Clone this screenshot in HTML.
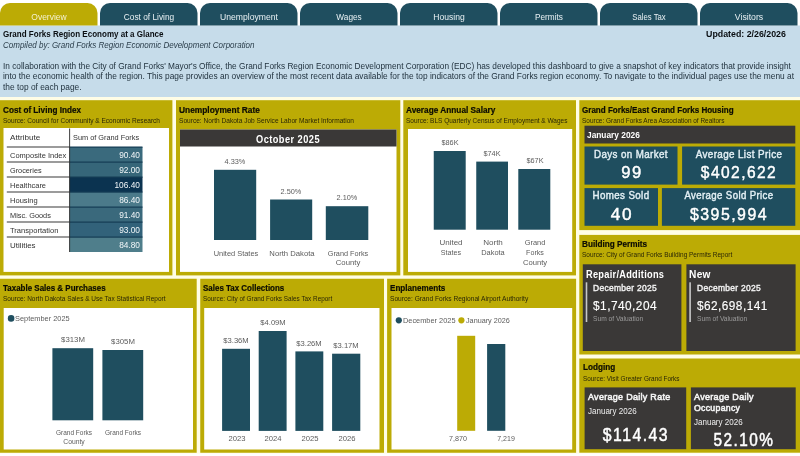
<!DOCTYPE html><html><head><meta charset="utf-8"><title>Grand Forks Region Economy at a Glance</title><style>
html,body{margin:0;padding:0;background:#fff;}body{width:800px;height:456px;position:relative;overflow:hidden;font-family:"Liberation Sans",sans-serif;}
.r{position:absolute;}.t{position:absolute;white-space:nowrap;line-height:20px;height:20px;}
.l{transform-origin:0 50%;}.c{transform-origin:50% 50%;}.e{transform-origin:100% 50%;}
</style></head><body>
<svg width="800" height="456" viewBox="0 0 800 456" style="position:absolute;left:0;top:0;display:block">
<rect fill="#fffde6" x="0" y="97" width="800" height="356.5"/>
<rect fill="#c6dcea" x="0" y="25.5" width="800" height="71.5"/>
<path fill="#bcab05" d="M0 25.5V13a10 10 0 0 1 10 -10H87.5a10 10 0 0 1 10 10V25.5z"/>
<path fill="#1f4e5f" d="M100 25.5V13a10 10 0 0 1 10 -10H187.5a10 10 0 0 1 10 10V25.5z"/>
<path fill="#1f4e5f" d="M200 25.5V13a10 10 0 0 1 10 -10H287.5a10 10 0 0 1 10 10V25.5z"/>
<path fill="#1f4e5f" d="M300 25.5V13a10 10 0 0 1 10 -10H387.5a10 10 0 0 1 10 10V25.5z"/>
<path fill="#1f4e5f" d="M400 25.5V13a10 10 0 0 1 10 -10H487.5a10 10 0 0 1 10 10V25.5z"/>
<path fill="#1f4e5f" d="M500 25.5V13a10 10 0 0 1 10 -10H587.5a10 10 0 0 1 10 10V25.5z"/>
<path fill="#1f4e5f" d="M600 25.5V13a10 10 0 0 1 10 -10H687.5a10 10 0 0 1 10 10V25.5z"/>
<path fill="#1f4e5f" d="M700 25.5V13a10 10 0 0 1 10 -10H787.5a10 10 0 0 1 10 10V25.5z"/>
<rect fill="#bcab05" x="0" y="100.2" width="172.4" height="175.2"/>
<rect fill="#fff" x="3.5" y="128" width="165.5" height="143.9"/>
<rect fill="#3a6a7d" x="69.6" y="147" width="72.9" height="15"/>
<rect fill="#143c55" x="69.6" y="146.5" width="72.9" height="1.2"/>
<rect fill="#4a4a4a" x="6.8" y="146.45" width="62.8" height="1.1"/>
<rect fill="#366679" x="69.6" y="162" width="72.9" height="15"/>
<rect fill="#143c55" x="69.6" y="161.5" width="72.9" height="1.2"/>
<rect fill="#4a4a4a" x="6.8" y="161.45" width="62.8" height="1.1"/>
<rect fill="#0b3350" x="69.6" y="177" width="72.9" height="15"/>
<rect fill="#143c55" x="69.6" y="176.5" width="72.9" height="1.2"/>
<rect fill="#4a4a4a" x="6.8" y="176.45" width="62.8" height="1.1"/>
<rect fill="#4b7a8a" x="69.6" y="192" width="72.9" height="15"/>
<rect fill="#143c55" x="69.6" y="191.5" width="72.9" height="1.2"/>
<rect fill="#4a4a4a" x="6.8" y="191.45" width="62.8" height="1.1"/>
<rect fill="#3a697c" x="69.6" y="207" width="72.9" height="15"/>
<rect fill="#143c55" x="69.6" y="206.5" width="72.9" height="1.2"/>
<rect fill="#4a4a4a" x="6.8" y="206.45" width="62.8" height="1.1"/>
<rect fill="#32627a" x="69.6" y="222" width="72.9" height="15"/>
<rect fill="#143c55" x="69.6" y="221.5" width="72.9" height="1.2"/>
<rect fill="#4a4a4a" x="6.8" y="221.45" width="62.8" height="1.1"/>
<rect fill="#4f7e8b" x="69.6" y="237" width="72.9" height="15"/>
<rect fill="#143c55" x="69.6" y="236.5" width="72.9" height="1.2"/>
<rect fill="#4a4a4a" x="6.8" y="236.45" width="62.8" height="1.1"/>
<rect fill="#2a2a2a" x="69.2" y="128.5" width="0.9" height="123.5"/>
<rect fill="#bcab05" x="176" y="100.2" width="224.3" height="175.2"/>
<rect fill="#fff" x="180" y="129.5" width="216.5" height="142.4"/>
<rect fill="#3a3837" x="180" y="129.5" width="216.5" height="17"/>
<rect fill="#1f4e5f" x="214" y="169.8" width="42.2" height="70.2"/>
<rect fill="#1f4e5f" x="270.1" y="199.5" width="42.1" height="40.5"/>
<rect fill="#1f4e5f" x="325.8" y="206.2" width="42.5" height="33.8"/>
<rect fill="#bcab05" x="403.3" y="100.2" width="172.7" height="175.2"/>
<rect fill="#fff" x="408" y="129" width="164.2" height="142.9"/>
<rect fill="#1f4e5f" x="433.75" y="151" width="31.95" height="78.7"/>
<rect fill="#1f4e5f" x="476.25" y="161.6" width="31.75" height="68.1"/>
<rect fill="#1f4e5f" x="518.3" y="169" width="32" height="60.7"/>
<rect fill="#bcab05" x="579.3" y="100.2" width="220.7" height="129.9"/>
<rect fill="#3a3837" x="584.5" y="125.7" width="210.8" height="17.8"/>
<rect fill="#1f4e5f" x="584.5" y="146.5" width="93" height="38.1"/>
<rect fill="#1f4e5f" x="682.1" y="146.5" width="113.2" height="38.1"/>
<rect fill="#1f4e5f" x="584.5" y="188.1" width="73.5" height="37.7"/>
<rect fill="#1f4e5f" x="661.9" y="188.1" width="133.4" height="37.7"/>
<rect fill="#bcab05" x="579.3" y="234.9" width="220.7" height="119.6"/>
<rect fill="#3a3837" x="582.8" y="264.3" width="98.6" height="86.7"/>
<rect fill="#c8c8c8" x="585.7" y="282.3" width="1.6" height="39.7"/>
<rect fill="#3a3837" x="686.4" y="264.3" width="109.2" height="86.7"/>
<rect fill="#c8c8c8" x="689.3" y="282.3" width="1.6" height="39.7"/>
<rect fill="#bcab05" x="579.3" y="358.5" width="220.7" height="94.2"/>
<rect fill="#3a3837" x="584.6" y="387.4" width="101.6" height="61.8"/>
<rect fill="#3a3837" x="690.9" y="387.4" width="104.8" height="61.8"/>
<rect fill="#bcab05" x="0" y="278.75" width="196.7" height="174"/>
<rect fill="#fff" x="3.7" y="308" width="189.3" height="141.5"/>
<ellipse fill="#1f4e5f" cx="11.1" cy="318.4" rx="3.3" ry="3.3"/>
<rect fill="#1f4e5f" x="52.4" y="348.2" width="40.8" height="72.1"/>
<rect fill="#1f4e5f" x="102.4" y="350" width="40.8" height="70.3"/>
<rect fill="#bcab05" x="200.25" y="278.75" width="183.75" height="174"/>
<rect fill="#fff" x="204.2" y="308" width="175.3" height="141.5"/>
<rect fill="#1f4e5f" x="222.1" y="348.8" width="27.9" height="82.1"/>
<rect fill="#1f4e5f" x="258.7" y="331" width="27.9" height="99.9"/>
<rect fill="#1f4e5f" x="295.4" y="351.4" width="27.9" height="79.5"/>
<rect fill="#1f4e5f" x="332.1" y="353.7" width="28.2" height="77.2"/>
<rect fill="#bcab05" x="387.1" y="278.75" width="189" height="174"/>
<rect fill="#fff" x="391.5" y="308" width="180.7" height="141.5"/>
<ellipse fill="#1f4e5f" cx="398.8" cy="320.3" rx="3.1" ry="3.1"/>
<ellipse fill="#bcab05" cx="461.4" cy="320.3" rx="3.1" ry="3.1"/>
<rect fill="#bcab05" x="457.2" y="335.8" width="18" height="95"/>
<rect fill="#1f4e5f" x="487.1" y="344" width="18.2" height="86.8"/>
</svg>
<div style="position:absolute;left:0;top:0;width:800px;height:456px;will-change:transform">
<div class="t c" style="top:7px;font-size:8.8px;color:#f4f1cf;left:48.90px;transform:translateX(-50%) scaleX(0.9648);">Overview</div>
<div class="t c" style="top:7px;font-size:8.8px;color:#e9f1f4;left:148.90px;transform:translateX(-50%) scaleX(0.9453);">Cost of Living</div>
<div class="t c" style="top:7px;font-size:8.8px;color:#e9f1f4;left:248.90px;transform:translateX(-50%) scaleX(0.9782);">Unemployment</div>
<div class="t c" style="top:7px;font-size:8.8px;color:#e9f1f4;left:348.90px;transform:translateX(-50%) scaleX(0.9378);">Wages</div>
<div class="t c" style="top:7px;font-size:8.8px;color:#e9f1f4;left:448.90px;transform:translateX(-50%) scaleX(0.9721);">Housing</div>
<div class="t c" style="top:7px;font-size:8.8px;color:#e9f1f4;left:548.90px;transform:translateX(-50%) scaleX(0.9347);">Permits</div>
<div class="t c" style="top:7px;font-size:8.8px;color:#e9f1f4;left:648.90px;transform:translateX(-50%) scaleX(0.8788);">Sales Tax</div>
<div class="t c" style="top:7px;font-size:8.8px;color:#e9f1f4;left:748.90px;transform:translateX(-50%) scaleX(0.9893);">Visitors</div>
<div class="t l" style="top:24px;font-size:8.4px;color:#0a0e12;font-weight:700;left:3.08px;transform:scaleX(0.9582);">Grand Forks Region Economy at a Glance</div>
<div class="t l" style="top:36px;font-size:8.2px;color:#2a3d4a;font-style:italic;left:3.09px;transform:scaleX(0.9765);">Compiled by: Grand Forks Region Economic Development Corporation</div>
<div class="t e" style="top:24px;font-size:8.4px;color:#0a0e12;font-weight:700;right:14.28px;transform:scaleX(1.0523);">Updated: 2/26/2026</div>
<div class="t l" style="top:57px;font-size:8.2px;color:#22333f;left:3.09px;transform:scaleX(1.0120);">In collaboration with the City of Grand Forks' Mayor's Office, the Grand Forks Region Economic Development Corporation (EDC) has developed this dashboard to give a snapshot of key indicators that provide insight</div>
<div class="t l" style="top:67px;font-size:8.2px;color:#22333f;left:3.09px;transform:scaleX(1.0211);">into the economic health of the region. This page provides an overview of the most recent data available for the top indicators of the Grand Forks region economy. To navigate to the individual pages use the menu at</div>
<div class="t l" style="top:78px;font-size:8.2px;color:#22333f;left:3.09px;transform:scaleX(1.0206);">the top of each page.</div>
<div class="t l" style="top:100px;font-size:8.8px;color:#0c0c04;font-weight:700;-webkit-text-stroke:0.2px #0c0c04;left:3.06px;transform:scaleX(0.9276);">Cost of Living Index</div>
<div class="t l" style="top:111px;font-size:7px;color:#2a2706;left:3.15px;transform:scaleX(0.9341);">Source: Council for Community &amp; Economic Research</div>
<div class="t l" style="top:128px;font-size:8px;color:#333;left:9.85px;transform:scaleX(1.0169);">Attribute</div>
<div class="t l" style="top:128px;font-size:8px;color:#333;left:72.7px;transform:scaleX(0.9177);">Sum of Grand Forks</div>
<div class="t l" style="top:146px;font-size:8px;color:#333;left:9.85px;transform:scaleX(0.9362);">Composite Index</div>
<div class="t e" style="top:145px;font-size:8.8px;color:#f2f7f9;right:660.16px;transform:scaleX(0.9484);">90.40</div>
<div class="t l" style="top:161px;font-size:8px;color:#333;left:9.85px;transform:scaleX(0.9110);">Groceries</div>
<div class="t e" style="top:160px;font-size:8.8px;color:#f2f7f9;right:660.16px;transform:scaleX(0.9484);">92.00</div>
<div class="t l" style="top:176px;font-size:8px;color:#333;left:9.85px;transform:scaleX(0.9305);">Healthcare</div>
<div class="t e" style="top:175px;font-size:8.8px;color:#f2f7f9;right:660.16px;transform:scaleX(0.9470);">106.40</div>
<div class="t l" style="top:191px;font-size:8px;color:#333;left:9.85px;transform:scaleX(0.9435);">Housing</div>
<div class="t e" style="top:190px;font-size:8.8px;color:#f2f7f9;right:660.16px;transform:scaleX(0.9484);">86.40</div>
<div class="t l" style="top:206px;font-size:8px;color:#333;left:9.85px;transform:scaleX(0.9197);">Misc. Goods</div>
<div class="t e" style="top:205px;font-size:8.8px;color:#f2f7f9;right:660.16px;transform:scaleX(0.9484);">91.40</div>
<div class="t l" style="top:221px;font-size:8px;color:#333;left:9.85px;transform:scaleX(0.9435);">Transportation</div>
<div class="t e" style="top:220px;font-size:8.8px;color:#f2f7f9;right:660.16px;transform:scaleX(0.9484);">93.00</div>
<div class="t l" style="top:236px;font-size:8px;color:#333;left:9.85px;transform:scaleX(0.9891);">Utilities</div>
<div class="t e" style="top:235px;font-size:8.8px;color:#f2f7f9;right:660.16px;transform:scaleX(0.9484);">84.80</div>
<div class="t l" style="top:100px;font-size:8.8px;color:#0c0c04;font-weight:700;-webkit-text-stroke:0.2px #0c0c04;left:178.56px;transform:scaleX(0.9508);">Unemployment Rate</div>
<div class="t l" style="top:111px;font-size:7px;color:#2a2706;left:178.65px;transform:scaleX(0.9409);">Source: North Dakota Job Service Labor Market Information</div>
<div class="t c" style="top:130px;font-size:10.2px;color:#fff;font-weight:700;letter-spacing:0.5px;left:288.23px;transform:translateX(-50%) scaleX(0.9066);">October 2025</div>
<div class="t c" style="top:152px;font-size:8px;color:#5c5c5c;left:234.80px;transform:translateX(-50%) scaleX(0.9168);">4.33%</div>
<div class="t c" style="top:182px;font-size:8px;color:#5c5c5c;left:290.85px;transform:translateX(-50%) scaleX(0.9168);">2.50%</div>
<div class="t c" style="top:188px;font-size:8px;color:#5c5c5c;left:346.75px;transform:translateX(-50%) scaleX(0.9168);">2.10%</div>
<div class="t c" style="top:244px;font-size:8px;color:#5c5c5c;left:236.10px;transform:translateX(-50%) scaleX(0.9275);">United States</div>
<div class="t c" style="top:244px;font-size:8px;color:#5c5c5c;left:292.20px;transform:translateX(-50%) scaleX(0.9610);">North Dakota</div>
<div class="t c" style="top:244px;font-size:8px;color:#5c5c5c;left:348.10px;transform:translateX(-50%) scaleX(0.9119);">Grand Forks</div>
<div class="t c" style="top:253px;font-size:8px;color:#5c5c5c;left:348.10px;transform:translateX(-50%) scaleX(0.9681);">County</div>
<div class="t l" style="top:100px;font-size:8.8px;color:#0c0c04;font-weight:700;-webkit-text-stroke:0.2px #0c0c04;left:406.06px;transform:scaleX(0.9390);">Average Annual Salary</div>
<div class="t l" style="top:111px;font-size:7px;color:#2a2706;left:406.15px;transform:scaleX(0.9253);">Source: BLS Quarterly Census of Employment &amp; Wages</div>
<div class="t c" style="top:133px;font-size:8px;color:#5c5c5c;left:449.93px;transform:translateX(-50%) scaleX(0.9151);">$86K</div>
<div class="t c" style="top:144px;font-size:8px;color:#5c5c5c;left:492.32px;transform:translateX(-50%) scaleX(0.9151);">$74K</div>
<div class="t c" style="top:151px;font-size:8px;color:#5c5c5c;left:534.50px;transform:translateX(-50%) scaleX(0.9151);">$67K</div>
<div class="t c" style="top:233px;font-size:8px;color:#5c5c5c;left:450.60px;transform:translateX(-50%) scaleX(0.9989);">United</div>
<div class="t c" style="top:243px;font-size:8px;color:#5c5c5c;left:450.60px;transform:translateX(-50%) scaleX(0.8948);">States</div>
<div class="t c" style="top:233px;font-size:8px;color:#5c5c5c;left:493.00px;transform:translateX(-50%) scaleX(1.0070);">North</div>
<div class="t c" style="top:243px;font-size:8px;color:#5c5c5c;left:493.00px;transform:translateX(-50%) scaleX(0.9267);">Dakota</div>
<div class="t c" style="top:233px;font-size:8px;color:#5c5c5c;left:535.10px;transform:translateX(-50%) scaleX(0.9265);">Grand</div>
<div class="t c" style="top:243px;font-size:8px;color:#5c5c5c;left:535.10px;transform:translateX(-50%) scaleX(0.8900);">Forks</div>
<div class="t c" style="top:253px;font-size:8px;color:#5c5c5c;left:535.10px;transform:translateX(-50%) scaleX(0.9543);">County</div>
<div class="t l" style="top:100px;font-size:8.8px;color:#0c0c04;font-weight:700;-webkit-text-stroke:0.2px #0c0c04;left:582.36px;transform:scaleX(0.9147);">Grand Forks/East Grand Forks Housing</div>
<div class="t l" style="top:111px;font-size:7px;color:#2a2706;left:582.45px;transform:scaleX(0.9225);">Source: Grand Forks Area Association of Realtors</div>
<div class="t l" style="top:125px;font-size:8.6px;color:#fff;font-weight:700;left:587.32px;transform:scaleX(0.9705);">January 2026</div>
<div class="t c" style="top:145px;font-size:10.4px;color:#e4f0f5;letter-spacing:0.4px;-webkit-text-stroke:0.4px #e4f0f5;left:631.19px;transform:translateX(-50%) scaleX(0.9431);">Days on Market</div>
<div class="t c" style="top:162px;font-size:17.3px;color:#fff;letter-spacing:1.6px;-webkit-text-stroke:0.45px #fff;left:631.77px;transform:translateX(-50%) scaleX(0.9612);">99</div>
<div class="t c" style="top:145px;font-size:10.4px;color:#e4f0f5;letter-spacing:0.4px;-webkit-text-stroke:0.4px #e4f0f5;left:738.89px;transform:translateX(-50%) scaleX(0.9483);">Average List Price</div>
<div class="t c" style="top:162px;font-size:17.3px;color:#fff;letter-spacing:1.6px;-webkit-text-stroke:0.45px #fff;left:739.42px;transform:translateX(-50%) scaleX(0.8996);">$402,622</div>
<div class="t c" style="top:186px;font-size:10.4px;color:#e4f0f5;letter-spacing:0.4px;-webkit-text-stroke:0.4px #e4f0f5;left:621.44px;transform:translateX(-50%) scaleX(0.9391);">Homes Sold</div>
<div class="t c" style="top:204px;font-size:17.3px;color:#fff;letter-spacing:1.6px;-webkit-text-stroke:0.45px #fff;left:622.05px;transform:translateX(-50%) scaleX(0.9948);">40</div>
<div class="t c" style="top:186px;font-size:10.4px;color:#e4f0f5;letter-spacing:0.4px;-webkit-text-stroke:0.4px #e4f0f5;left:728.79px;transform:translateX(-50%) scaleX(0.9275);">Average Sold Price</div>
<div class="t c" style="top:204px;font-size:17.3px;color:#fff;letter-spacing:1.6px;-webkit-text-stroke:0.45px #fff;left:729.34px;transform:translateX(-50%) scaleX(0.9212);">$395,994</div>
<div class="t l" style="top:234px;font-size:8.8px;color:#0c0c04;font-weight:700;-webkit-text-stroke:0.2px #0c0c04;left:581.96px;transform:scaleX(0.9310);">Building Permits</div>
<div class="t l" style="top:245px;font-size:7px;color:#2a2706;left:582.05px;transform:scaleX(0.9264);">Source: City of Grand Forks Building Permits Report</div>
<div class="t l" style="top:265px;font-size:10px;color:#fff;font-weight:700;letter-spacing:0.3px;left:585.6px;transform:scaleX(0.9229);">Repair/Additions</div>
<div class="t l" style="top:278px;font-size:9px;color:#f2f2f2;letter-spacing:0.3px;-webkit-text-stroke:0.4px #f2f2f2;left:593.15px;transform:scaleX(0.9403);">December 2025</div>
<div class="t l" style="top:296px;font-size:12.6px;color:#fff;letter-spacing:0.5px;-webkit-text-stroke:0.15px #fff;left:592.97px;transform:scaleX(0.9412);">$1,740,204</div>
<div class="t l" style="top:309px;font-size:7.2px;color:#9c9c9c;left:593.24px;transform:scaleX(0.9244);">Sum of Valuation</div>
<div class="t l" style="top:265px;font-size:10px;color:#fff;font-weight:700;letter-spacing:0.3px;left:689.2px;transform:scaleX(1.0156);">New</div>
<div class="t l" style="top:278px;font-size:9px;color:#f2f2f2;letter-spacing:0.3px;-webkit-text-stroke:0.4px #f2f2f2;left:696.75px;transform:scaleX(0.9403);">December 2025</div>
<div class="t l" style="top:296px;font-size:12.6px;color:#fff;letter-spacing:0.5px;-webkit-text-stroke:0.15px #fff;left:696.57px;transform:scaleX(0.9362);">$62,698,141</div>
<div class="t l" style="top:309px;font-size:7.2px;color:#9c9c9c;left:696.84px;transform:scaleX(0.9244);">Sum of Valuation</div>
<div class="t l" style="top:357px;font-size:8.8px;color:#0c0c04;font-weight:700;-webkit-text-stroke:0.2px #0c0c04;left:582.56px;transform:scaleX(0.9277);">Lodging</div>
<div class="t l" style="top:369px;font-size:7px;color:#2a2706;left:582.65px;transform:scaleX(0.9131);">Source: Visit Greater Grand Forks</div>
<div class="t l" style="top:387px;font-size:9.2px;color:#f4f4f4;letter-spacing:0.3px;-webkit-text-stroke:0.55px #f4f4f4;left:587.54px;transform:scaleX(0.9778);">Average Daily Rate</div>
<div class="t l" style="top:401px;font-size:8.3px;color:#efefef;left:587.585px;transform:scaleX(0.9672);">January 2026</div>
<div class="t c" style="top:425px;font-size:18px;color:#fff;letter-spacing:1.7px;-webkit-text-stroke:0.5px #fff;left:635.74px;transform:translateX(-50%) scaleX(0.8764);">$114.43</div>
<div class="t l" style="top:387px;font-size:9.2px;color:#f4f4f4;letter-spacing:0.3px;-webkit-text-stroke:0.55px #f4f4f4;left:693.74px;transform:scaleX(0.9832);">Average Daily</div>
<div class="t l" style="top:398px;font-size:9.2px;color:#f4f4f4;letter-spacing:0.3px;-webkit-text-stroke:0.55px #f4f4f4;left:693.74px;transform:scaleX(0.9493);">Occupancy</div>
<div class="t l" style="top:412px;font-size:8.3px;color:#efefef;left:693.785px;transform:scaleX(0.9672);">January 2026</div>
<div class="t c" style="top:430px;font-size:17.5px;color:#fff;letter-spacing:1.7px;-webkit-text-stroke:0.5px #fff;left:744.35px;transform:translateX(-50%) scaleX(0.8775);">52.10%</div>
<div class="t l" style="top:278px;font-size:8.8px;color:#0c0c04;font-weight:700;-webkit-text-stroke:0.2px #0c0c04;left:3.06px;transform:scaleX(0.9064);">Taxable Sales &amp; Purchases</div>
<div class="t l" style="top:289px;font-size:7px;color:#2a2706;left:3.15px;transform:scaleX(0.9268);">Source: North Dakota Sales &amp; Use Tax Statistical Report</div>
<div class="t l" style="top:309px;font-size:8px;color:#5c5c5c;left:15.2px;transform:scaleX(0.9230);">September 2025</div>
<div class="t c" style="top:330px;font-size:8px;color:#5c5c5c;left:73.00px;transform:translateX(-50%) scaleX(0.9727);">$313M</div>
<div class="t c" style="top:332px;font-size:8px;color:#5c5c5c;left:123.00px;transform:translateX(-50%) scaleX(0.9727);">$305M</div>
<div class="t c" style="top:423px;font-size:7px;color:#5c5c5c;left:73.50px;transform:translateX(-50%) scaleX(0.9304);">Grand Forks</div>
<div class="t c" style="top:432px;font-size:7px;color:#5c5c5c;left:73.70px;transform:translateX(-50%) scaleX(0.9690);">County</div>
<div class="t c" style="top:423px;font-size:7px;color:#5c5c5c;left:123.40px;transform:translateX(-50%) scaleX(0.9304);">Grand Forks</div>
<div class="t l" style="top:278px;font-size:8.8px;color:#0c0c04;font-weight:700;-webkit-text-stroke:0.2px #0c0c04;left:203.06px;transform:scaleX(0.9052);">Sales Tax Collections</div>
<div class="t l" style="top:289px;font-size:7px;color:#2a2706;left:203.15px;transform:scaleX(0.9107);">Source: City of Grand Forks Sales Tax Report</div>
<div class="t c" style="top:331px;font-size:8px;color:#5c5c5c;left:236.05px;transform:translateX(-50%) scaleX(0.9518);">$3.36M</div>
<div class="t c" style="top:429px;font-size:8px;color:#5c5c5c;left:236.65px;transform:translateX(-50%) scaleX(0.9552);">2023</div>
<div class="t c" style="top:313px;font-size:8px;color:#5c5c5c;left:272.65px;transform:translateX(-50%) scaleX(0.9518);">$4.09M</div>
<div class="t c" style="top:429px;font-size:8px;color:#5c5c5c;left:273.25px;transform:translateX(-50%) scaleX(0.9552);">2024</div>
<div class="t c" style="top:334px;font-size:8px;color:#5c5c5c;left:309.35px;transform:translateX(-50%) scaleX(0.9518);">$3.26M</div>
<div class="t c" style="top:429px;font-size:8px;color:#5c5c5c;left:309.95px;transform:translateX(-50%) scaleX(0.9552);">2025</div>
<div class="t c" style="top:336px;font-size:8px;color:#5c5c5c;left:346.20px;transform:translateX(-50%) scaleX(0.9518);">$3.17M</div>
<div class="t c" style="top:429px;font-size:8px;color:#5c5c5c;left:346.80px;transform:translateX(-50%) scaleX(0.9552);">2026</div>
<div class="t l" style="top:278px;font-size:8.8px;color:#0c0c04;font-weight:700;-webkit-text-stroke:0.2px #0c0c04;left:389.81px;transform:scaleX(0.9208);">Enplanements</div>
<div class="t l" style="top:289px;font-size:7px;color:#2a2706;left:389.9px;transform:scaleX(0.9472);">Source: Grand Forks Regional Airport Authority</div>
<div class="t l" style="top:311px;font-size:8px;color:#5c5c5c;left:402.9px;transform:scaleX(0.9223);">December 2025</div>
<div class="t l" style="top:311px;font-size:8px;color:#5c5c5c;left:465.6px;transform:scaleX(0.9034);">January 2026</div>
<div class="t c" style="top:429px;font-size:8px;color:#5c5c5c;left:458.30px;transform:translateX(-50%) scaleX(0.8936);">7,870</div>
<div class="t c" style="top:429px;font-size:8px;color:#5c5c5c;left:506.30px;transform:translateX(-50%) scaleX(0.8786);">7,219</div>
</div>
</body></html>
